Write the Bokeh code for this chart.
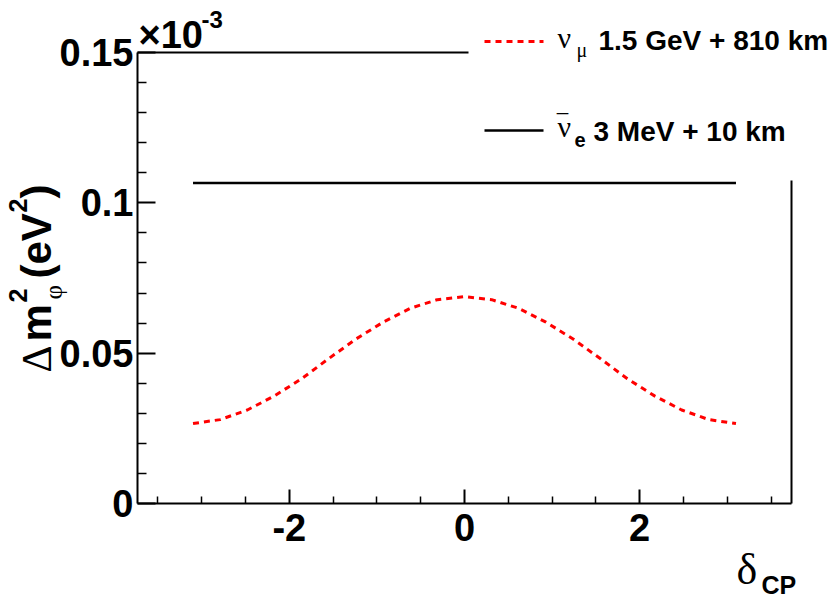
import math
from bokeh.plotting import figure
from bokeh.models import (Range1d, FixedTicker, CustomJSTickFormatter,
                          Label, PolyAnnotation)
from bokeh.embed import file_html
from bokeh.resources import INLINE

# ---------------- data ----------------
delta_cp = [-3.1, -2.79, -2.48, -2.17, -1.86, -1.55, -1.24, -0.93, -0.62, -0.31, 0.0,
            0.31, 0.62, 0.93, 1.24, 1.55, 1.86, 2.17, 2.48, 2.79, 3.1]
dm2_numu = [0.0266, 0.0279, 0.0311, 0.0358, 0.0415, 0.0482, 0.0547, 0.0603, 0.0649, 0.0678, 0.0688,
            0.0678, 0.0649, 0.0603, 0.0547, 0.0482, 0.0415, 0.0358, 0.0311, 0.0279, 0.0266]
delta_flat = [-3.1, 3.1]
dm2_nuebar = [0.1066, 0.1066]

x_major = [-2, 0, 2]
x_minor = [-3.5, -3, -2.5, -1.5, -1, -0.5, 0.5, 1, 1.5, 2.5, 3, 3.5]
y_major = [0, 0.05, 0.1, 0.15]
y_minor = [0.01, 0.02, 0.03, 0.04, 0.06, 0.07, 0.08, 0.09, 0.11, 0.12, 0.13, 0.14]

legend_numu = "1.5 GeV + 810 km"
legend_nuebar = "3 MeV + 10 km"

# ---------------- layout ----------------
W, H = 831, 598
FL, FR, FT, FB = 137, 791, 52, 503          # axes box in canvas pixels
XMIN, XMAX = -3.734, 3.734
YMIN, YMAX = 0.0, 0.15

def dx(px):
    return XMIN + (px - FL) / (FR - FL) * (XMAX - XMIN)

def dy(py):
    return YMIN + (FB - py) / (FB - FT) * (YMAX - YMIN)

p = figure(width=W, height=H, min_border=0,
           x_range=Range1d(dx(0), dx(W)), y_range=Range1d(dy(H), dy(0)),
           output_backend="svg", toolbar_location=None,
           background_fill_color="white", border_fill_color="white")
p.grid.visible = False
p.outline_line_color = None

fmt = CustomJSTickFormatter(code="return String(Math.round(tick*1000)/1000);")
FONT = "Liberation Sans"

p.xaxis.ticker = FixedTicker(ticks=x_major, minor_ticks=x_minor)
p.yaxis.ticker = FixedTicker(ticks=y_major, minor_ticks=y_minor)
p.xaxis.fixed_location = YMIN
p.yaxis.fixed_location = XMIN
p.xaxis.bounds = (XMIN, XMAX)
p.yaxis.bounds = (YMIN, YMAX)
for ax in (p.xaxis[0], p.yaxis[0]):
    ax.formatter = fmt
    ax.axis_line_width = 2
    ax.axis_line_color = "black"
    ax.major_tick_line_width = 2
    ax.minor_tick_line_width = 1.5
    ax.major_tick_out = 0
    ax.minor_tick_out = 0
    ax.major_label_text_font = FONT
    ax.major_label_text_font_style = "bold"
    ax.major_label_text_font_size = "38px"
    ax.major_label_text_color = "black"
p.xaxis.major_tick_in = 14
p.xaxis.minor_tick_in = 7
p.xaxis.major_label_standoff = 10
p.yaxis.major_tick_in = 18
p.yaxis.minor_tick_in = 9
p.yaxis.major_label_standoff = 4

# ---------------- data lines ----------------
p.line(delta_cp, dm2_numu, line_color="red", line_width=3, line_dash="6 5")
p.line(delta_flat, dm2_nuebar, line_color="black", line_width=2.5)

# ---------------- text / decoration helpers ----------------
K = 0.33   # empirical baseline correction (fraction of font size)

def txt(s, px, py, size, bold=True, font=FONT, rotated=False, color="black"):
    if rotated:
        ax_, ay_, ang = px - K * size, py, math.pi / 2
    else:
        ax_, ay_, ang = px, py - K * size, 0.0
    p.add_layout(Label(x=dx(ax_), y=dy(ay_), text=s, text_font=font,
                       text_font_size=f"{size}px",
                       text_font_style="bold" if bold else "normal",
                       text_color=color, text_baseline="alphabetic",
                       text_align="left", angle=ang))

def seg(x0, y0, x1, y1, color="black", width=2, dash="solid"):
    p.add_layout(PolyAnnotation(xs=[dx(x0), dx(x1)], ys=[dy(y0), dy(y1)],
                                fill_alpha=0, line_alpha=1.0, line_color=color,
                                line_width=width, line_dash=dash))

# partial frame lines (top and right); the rest is hidden by the legend box
seg(FL, FT, 468, FT, width=2)
seg(FR, 180, FR, FB, width=2)

# exponent label
txt("\u00d710", 138, 47, 38)
txt("-3", 201, 27, 24)

# x-axis title
txt("\u03b4", 736, 584, 44, bold=False, font="Liberation Serif")
txt("CP", 761, 593, 25)

# y-axis title (rotated)
txt("\u0394", 50, 372, 42, bold=False, font="Liberation Serif", rotated=True)
txt("m", 50, 341, 42, rotated=True)
txt("2", 26, 302, 25, rotated=True)
txt("\u03c6", 61, 299, 25, bold=False, font="Liberation Serif", rotated=True)
txt("(eV", 50, 278, 42, rotated=True)
txt("2", 26, 212, 25, rotated=True)
txt(")", 50, 198, 42, rotated=True)

# legend
seg(484, 41, 543, 41, color="red", width=3, dash="6 5")
txt("\u03bd", 557, 47, 30, bold=False, font="Liberation Serif")
txt("\u03bc", 576, 56, 20, bold=False, font="Liberation Serif")
txt(legend_numu, 598, 49, 28)

seg(484, 130, 543, 130, color="black", width=2.5)
txt("\u03bd", 557, 136, 30, bold=False, font="Liberation Serif")
txt("\u203e", 557, 136, 30, bold=False, font="Liberation Serif")
txt("e", 574, 146, 20)
txt(legend_nuebar, 593, 140, 28)

open("out.html", "w").write(file_html(p, INLINE))
